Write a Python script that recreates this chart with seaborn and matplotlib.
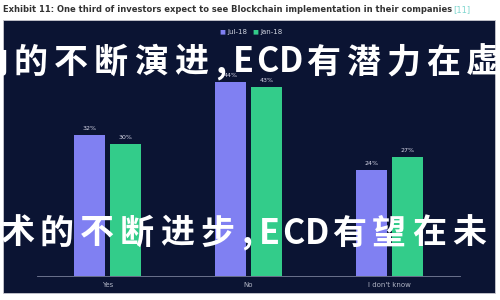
import matplotlib
matplotlib.use("Agg")
import matplotlib.pyplot as plt
import seaborn as sns
import pandas as pd
from matplotlib.patches import Rectangle

categories = ["Yes", "No", "I don't know"]
series_names = ["Jul-18", "Jan-18"]
jul18 = [32, 44, 24]
jan18 = [30, 43, 27]
title = "Exhibit 11: One third of investors expect to see Blockchain implementation in their companies"
overlay1 = "向的不断演进,ECD有潜力在虚"
overlay2 = "术的不断进步,ECD有望在未"

df = pd.DataFrame({
    "cat": categories * 2,
    "series": [series_names[0]] * 3 + [series_names[1]] * 3,
    "val": jul18 + jan18,
})

sns.set_theme(style="white")
plt.rcParams['font.family'] = ['DejaVu Sans']

W, H = 500, 300
fig = plt.figure(figsize=(5, 3), dpi=100)
fig.patch.set_facecolor("white")

# dark panel
panel = Rectangle((3 / W, 1 - 293 / H), 492 / W, 273 / H, transform=fig.transFigure,
                  facecolor="#0b1433", edgecolor="#c8c8d0", linewidth=0.6, zorder=-5)
fig.patches.append(panel)

fig.text(3 / W, 1 - 10 / H, title, fontsize=6.0, fontweight="bold", color="#333333",
         ha="left", va="center")
fig.text(453 / W, 1 - 10 / H, "[11]", fontsize=6.0, color="#7fd6cf", ha="left", va="center")

ax = fig.add_axes([37 / W, 24 / H, 423 / W, 220 / H])
ax.set_facecolor("none")
ax.set_zorder(2)
palette = {"Jul-18": "#8080f2", "Jan-18": "#33cc8a"}
sns.barplot(data=df, x="cat", y="val", hue="series", palette=palette, width=0.51, gap=0.14,
            ax=ax, legend=False, saturation=1, linewidth=0)
ax.set_xlim(-0.5, 2.5)
ax.set_ylim(0, 50)
for c in ax.containers:
    ax.bar_label(c, labels=[f"{v:.0f}%" for v in c.datavalues], fontsize=4.5,
                 color="#d8d8e8", padding=3)
ax.set_yticks([])
ax.set_xlabel("")
ax.set_ylabel("")
ax.tick_params(axis="x", colors="#b0b4c4", labelsize=5, length=0, pad=4)
for s in ["top", "right", "left"]:
    ax.spines[s].set_visible(False)
ax.spines["bottom"].set_color("#7a809a")
ax.spines["bottom"].set_linewidth(0.6)

# legend
fig.text(0.5 - 0.055, 1 - 32 / H, "■", color="#8080f2", fontsize=4.5, ha="center", va="center")
fig.text(0.5 - 0.045, 1 - 32 / H, "Jul-18", color="#d0d4e0", fontsize=5, ha="left", va="center")
fig.text(0.5 + 0.01, 1 - 32 / H, "■", color="#33cc8a", fontsize=4.5, ha="center", va="center")
fig.text(0.5 + 0.02, 1 - 32 / H, "Jan-18", color="#d0d4e0", fontsize=5, ha="left", va="center")

# overlay text, drawn glyph by glyph with wide letter spacing
cjk = ['Noto Sans CJK SC', 'DejaVu Sans']


def glyph_width(ch):
    if ch == ",":
        return 20
    if ch.isascii():
        return 24
    return 40


def spaced_text(s, x_first_center, y_center):
    x = x_first_center
    prev = None
    for ch in s:
        if prev is not None:
            x += (glyph_width(prev) + glyph_width(ch)) / 2
        fig.text(x / W, 1 - y_center / H, ch, family=cjk, fontsize=24.5, fontweight="bold",
                 color="white", ha="center", va="center", zorder=10)
        prev = ch


spaced_text(overlay1, -9, 62)
spaced_text(overlay2, 17, 233)

fig.savefig("out.png", dpi=100, facecolor="white")
